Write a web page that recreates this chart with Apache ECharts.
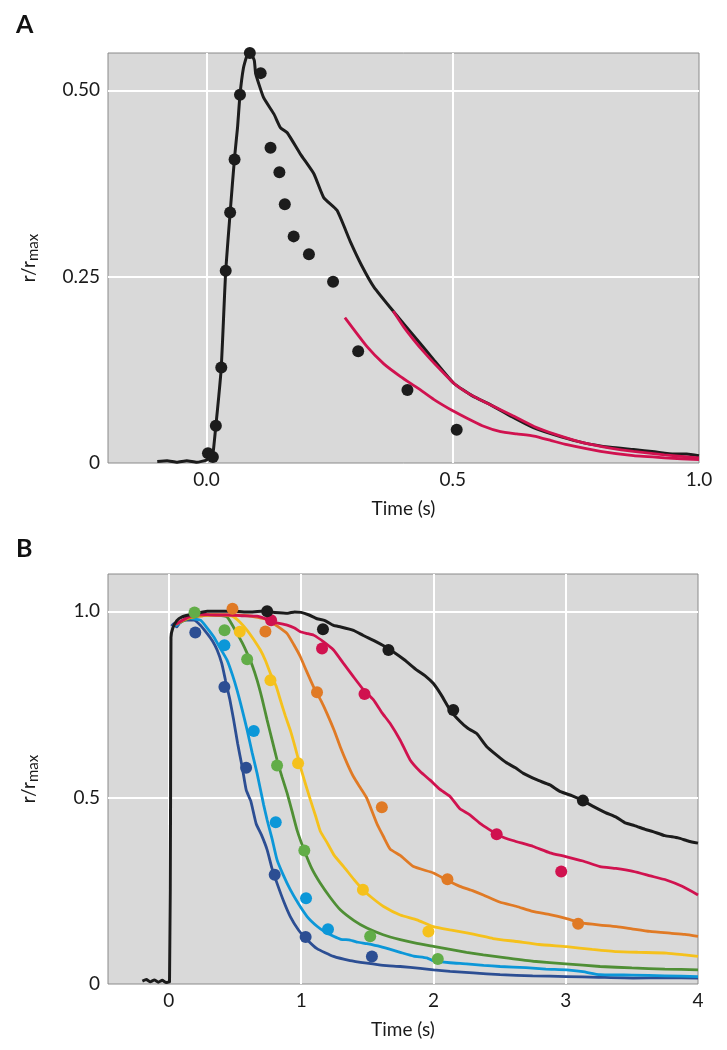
<!DOCTYPE html>
<html>
<head>
<meta charset="utf-8">
<script src="https://cdn.jsdelivr.net/npm/echarts@6/dist/echarts.min.js"></script>
<style>html,body{margin:0;padding:0;background:#fff;}#c{width:727px;height:1050px;}</style>
</head>
<body>
<div id="c"></div>
<script>
// ---------- Panel A data ----------
const xTicksA = [0, 0.5, 1.0];
const yTicksA = [0, 0.25, 0.5];
const xGridA = [0, 0.5];
const yGridA = [0.25, 0.5];
const traceA = [[-0.1,0.002],[-0.08,0.003],[-0.06,0.001],[-0.04,0.003],[-0.02,0.001],[0.0,0.004],[0.008,0.009],[0.013,0.012],[0.019,0.05],[0.025,0.09],[0.03,0.128],[0.035,0.2],[0.039,0.258],[0.048,0.336],[0.057,0.41],[0.063,0.45],[0.068,0.494],[0.075,0.53],[0.082,0.546],[0.09,0.549],[0.097,0.54],[0.1,0.522],[0.116,0.49],[0.137,0.468],[0.15,0.45],[0.164,0.443],[0.191,0.414],[0.218,0.388],[0.238,0.356],[0.265,0.339],[0.292,0.297],[0.315,0.265],[0.34,0.236],[0.38,0.203],[0.428,0.165],[0.462,0.138],[0.502,0.107],[0.54,0.09],[0.577,0.078],[0.62,0.062],[0.665,0.047],[0.72,0.035],[0.766,0.027],[0.82,0.021],[0.867,0.018],[0.91,0.015],[0.949,0.012],[0.975,0.012],[1.0,0.0098]];
const dotsA = [[0.003,0.013],[0.013,0.008],[0.019,0.05],[0.03,0.128],[0.039,0.258],[0.048,0.336],[0.057,0.407],[0.068,0.494],[0.088,0.55],[0.11,0.523],[0.13,0.423],[0.148,0.39],[0.159,0.347],[0.177,0.304],[0.208,0.28],[0.257,0.243],[0.308,0.15],[0.408,0.098],[0.508,0.0445]];
const fitA1 = [[0.281,0.195],[0.326,0.156],[0.36,0.133],[0.394,0.116],[0.43,0.1],[0.462,0.085],[0.5,0.07],[0.529,0.06],[0.56,0.05],[0.597,0.042],[0.63,0.039],[0.665,0.036],[0.7,0.03],[0.732,0.0245],[0.8,0.0155],[0.867,0.0098],[0.93,0.007],[1.0,0.0044]];
const fitA2 = [[0.379,0.204],[0.4,0.183],[0.421,0.165],[0.44,0.15],[0.462,0.134],[0.502,0.107],[0.535,0.092],[0.57,0.08],[0.62,0.064],[0.665,0.049],[0.71,0.038],[0.766,0.027],[0.82,0.02],[0.867,0.0155],[0.93,0.011],[1.0,0.0067]];

// ---------- Panel B data ----------
const xTicksB = [0, 1, 2, 3, 4];
const yTicksB = [0, 0.5, 1.0];
const xGridB = [0, 1, 2, 3];
const yGridB = [0.5, 1.0];
const blackB = [[-0.2,0.008],[-0.17,0.012],[-0.14,0.006],[-0.11,0.011],[-0.08,0.005],[-0.05,0.01],[-0.02,0.004],[0.005,0.006],[0.013,0.5],[0.016,0.93],[0.03,0.955],[0.06,0.975],[0.1,0.985],[0.15,0.99],[0.2,0.993],[0.29,1.0],[0.4,1.0],[0.5,1.0],[0.6,0.998],[0.7,1.0],[0.8,0.997],[0.9,0.995],[0.95,0.998],[1.0,0.997],[1.06,0.99],[1.12,0.98],[1.18,0.975],[1.245,0.962],[1.3,0.958],[1.396,0.949],[1.47,0.935],[1.547,0.922],[1.62,0.908],[1.698,0.891],[1.78,0.87],[1.875,0.842],[1.94,0.826],[2.0,0.806],[2.06,0.775],[2.126,0.735],[2.2,0.705],[2.26,0.686],[2.327,0.672],[2.4,0.638],[2.478,0.614],[2.55,0.594],[2.62,0.58],[2.68,0.565],[2.78,0.548],[2.88,0.534],[2.96,0.516],[3.05,0.505],[3.13,0.492],[3.2,0.478],[3.3,0.46],[3.384,0.447],[3.45,0.432],[3.52,0.425],[3.6,0.415],[3.66,0.409],[3.75,0.398],[3.85,0.392],[3.93,0.383],[4.0,0.378]];
const blackDotsB = [[0.743,1.0],[1.165,0.952],[1.66,0.896],[2.15,0.735],[3.13,0.492]];
const redB = [[0.05,0.965],[0.1,0.975],[0.15,0.985],[0.24,0.992],[0.35,0.99],[0.45,0.99],[0.55,0.988],[0.667,0.987],[0.73,0.98],[0.79,0.971],[0.894,0.963],[0.95,0.955],[0.994,0.945],[1.05,0.94],[1.094,0.936],[1.17,0.918],[1.245,0.896],[1.32,0.86],[1.396,0.824],[1.47,0.79],[1.547,0.762],[1.61,0.728],[1.673,0.699],[1.749,0.654],[1.824,0.601],[1.9,0.57],[1.975,0.547],[2.05,0.522],[2.126,0.503],[2.2,0.47],[2.27,0.455],[2.352,0.431],[2.42,0.415],[2.5,0.398],[2.6,0.385],[2.755,0.369],[2.88,0.352],[3.0,0.342],[3.13,0.33],[3.26,0.315],[3.38,0.31],[3.51,0.302],[3.64,0.29],[3.76,0.279],[3.88,0.262],[4.0,0.239]];
const redDotsB = [[0.773,0.976],[1.158,0.9],[1.479,0.778],[2.478,0.402],[2.966,0.302]];
const orangeB = [[0.05,0.965],[0.15,0.982],[0.3,0.99],[0.44,0.99],[0.6,0.988],[0.743,0.978],[0.82,0.96],[0.894,0.94],[0.945,0.91],[0.994,0.878],[1.04,0.84],[1.094,0.797],[1.15,0.76],[1.195,0.726],[1.25,0.68],[1.296,0.636],[1.35,0.59],[1.396,0.556],[1.45,0.525],[1.497,0.498],[1.573,0.43],[1.623,0.395],[1.673,0.362],[1.749,0.345],[1.849,0.315],[2.0,0.298],[2.1,0.279],[2.2,0.262],[2.3,0.25],[2.377,0.239],[2.5,0.22],[2.63,0.208],[2.75,0.195],[2.88,0.186],[3.0,0.176],[3.13,0.163],[3.26,0.158],[3.384,0.154],[3.5,0.148],[3.636,0.141],[3.8,0.136],[3.9,0.133],[4.0,0.128]];
const orangeDotsB = [[0.481,1.007],[0.73,0.946],[1.12,0.783],[1.61,0.474],[2.106,0.281],[3.094,0.1615]];
const yellowB = [[0.05,0.965],[0.15,0.982],[0.3,0.99],[0.42,0.99],[0.49,0.985],[0.54,0.97],[0.592,0.949],[0.64,0.925],[0.692,0.896],[0.73,0.868],[0.768,0.833],[0.81,0.8],[0.843,0.762],[0.88,0.72],[0.918,0.681],[0.955,0.635],[0.994,0.583],[1.03,0.54],[1.07,0.494],[1.11,0.45],[1.145,0.41],[1.195,0.38],[1.25,0.345],[1.321,0.315],[1.4,0.28],[1.467,0.253],[1.54,0.23],[1.623,0.208],[1.749,0.185],[1.875,0.172],[2.0,0.154],[2.126,0.145],[2.252,0.137],[2.35,0.13],[2.45,0.122],[2.63,0.114],[2.8,0.106],[3.007,0.1],[3.2,0.093],[3.384,0.087],[3.55,0.085],[3.762,0.083],[3.9,0.078],[4.0,0.074]];
const yellowDotsB = [[0.536,0.945],[0.768,0.815],[0.977,0.592],[1.467,0.253],[1.962,0.141]];
const greenB = [[0.05,0.965],[0.15,0.98],[0.25,0.99],[0.35,0.99],[0.44,0.985],[0.516,0.94],[0.555,0.915],[0.592,0.887],[0.63,0.855],[0.667,0.815],[0.705,0.765],[0.743,0.708],[0.78,0.655],[0.818,0.601],[0.856,0.555],[0.894,0.512],[0.93,0.465],[0.969,0.413],[1.024,0.358],[1.08,0.31],[1.145,0.27],[1.22,0.232],[1.296,0.199],[1.4,0.17],[1.497,0.15],[1.62,0.132],[1.749,0.119],[1.875,0.109],[2.0,0.101],[2.126,0.093],[2.25,0.085],[2.377,0.078],[2.55,0.07],[2.755,0.061],[3.0,0.054],[3.26,0.047],[3.5,0.043],[3.75,0.04],[4.0,0.038]];
const greenDotsB = [[0.194,0.997],[0.421,0.949],[0.592,0.871],[0.818,0.586],[1.024,0.358],[1.522,0.128],[2.033,0.067]];
const lightBlueB = [[0.05,0.96],[0.139,0.982],[0.24,0.976],[0.29,0.955],[0.34,0.931],[0.39,0.9],[0.44,0.869],[0.48,0.83],[0.516,0.788],[0.555,0.735],[0.592,0.681],[0.63,0.62],[0.667,0.565],[0.717,0.48],[0.743,0.44],[0.78,0.39],[0.818,0.333],[0.868,0.29],[0.918,0.253],[0.98,0.215],[1.045,0.181],[1.12,0.155],[1.18,0.14],[1.245,0.128],[1.3,0.12],[1.37,0.118],[1.43,0.112],[1.497,0.108],[1.6,0.1],[1.749,0.085],[1.85,0.075],[1.95,0.07],[2.0,0.062],[2.126,0.057],[2.25,0.054],[2.38,0.05],[2.504,0.047],[2.7,0.044],[2.85,0.04],[3.007,0.038],[3.13,0.033],[3.26,0.025],[3.5,0.024],[3.75,0.022],[4.0,0.02]];
const lightBlueDotsB = [[0.42,0.909],[0.642,0.679],[0.808,0.434],[1.037,0.23],[1.203,0.147]];
const darkBlueB = [[0.02,0.96],[0.038,0.967],[0.06,0.958],[0.08,0.968],[0.113,0.976],[0.189,0.976],[0.24,0.962],[0.29,0.94],[0.33,0.92],[0.365,0.896],[0.4,0.86],[0.428,0.815],[0.46,0.765],[0.49,0.708],[0.52,0.645],[0.554,0.583],[0.585,0.52],[0.62,0.49],[0.66,0.43],[0.7,0.4],[0.743,0.36],[0.78,0.31],[0.818,0.27],[0.87,0.22],[0.918,0.181],[0.98,0.145],[1.045,0.119],[1.12,0.095],[1.245,0.074],[1.37,0.063],[1.497,0.056],[1.62,0.05],[1.749,0.047],[1.9,0.042],[2.0,0.038],[2.126,0.034],[2.3,0.03],[2.504,0.025],[2.75,0.022],[3.007,0.02],[3.25,0.018],[3.51,0.016],[3.75,0.017],[4.0,0.016]];
const darkBlueDotsB = [[0.2,0.943],[0.42,0.797],[0.584,0.58],[0.8,0.293],[1.034,0.126],[1.535,0.074]];

const FONT = 'Lato';
const TXT = '#1a1a1a';
const C = {black:'#1c1c1c', red:'#d0124f', orange:'#e07a25', yellow:'#f5c11c', greenLine:'#4f8f35', greenDot:'#62ad48', lightBlue:'#0c97d8', darkBlue:'#2c4e93'};

function xAxisCfg(gi, min, max, ticks, fmt) {
  return {type:'value', gridIndex:gi, min:min, max:max,
    axisLine:{show:false}, axisTick:{show:false}, splitLine:{show:false},
    axisLabel:{customValues:ticks, formatter:fmt, margin:7, fontSize:19, color:TXT, fontFamily:FONT},
    name:'Time (s)', nameLocation:'middle', nameGap:36,
    nameTextStyle:{fontSize:19, color:TXT, fontFamily:FONT}};
}
function yAxisCfg(gi, min, max, ticks, fmt) {
  return {type:'value', gridIndex:gi, min:min, max:max,
    axisLine:{show:false}, axisTick:{show:false}, splitLine:{show:false},
    axisLabel:{customValues:ticks, formatter:fmt, margin:8, fontSize:19, color:TXT, fontFamily:FONT},
    name:'{a|r/r}{b|max}', nameLocation:'middle', nameGap:67, nameRotate:90,
    nameTextStyle:{color:TXT, fontFamily:FONT, rich:{
      a:{fontSize:19, color:TXT, fontFamily:FONT},
      b:{fontSize:15, color:TXT, fontFamily:FONT, padding:[10,0,0,0]}}}};
}
function gridLines(xi, xs, ys) {
  return {type:'line', xAxisIndex:xi, yAxisIndex:xi, data:[], silent:true, z:1,
    markLine:{silent:true, z:1, symbol:'none', animation:false, label:{show:false},
      lineStyle:{color:'#ffffff', width:2, type:'solid', opacity:1},
      emphasis:{disabled:true},
      data:[...xs.map(v=>({xAxis:v})), ...ys.map(v=>({yAxis:v}))]}};
}
function line(xi, data, color, w) {
  return {type:'line', xAxisIndex:xi, yAxisIndex:xi, data:data, showSymbol:false, symbol:'none',
    lineStyle:{color:color, width:w||2.8}, z:3, silent:true, smooth:0.15};
}
function dots(xi, data, color) {
  return {type:'scatter', xAxisIndex:xi, yAxisIndex:xi, data:data, symbolSize:12,
    itemStyle:{color:color, opacity:1}, z:5, silent:true, clip:false};
}

const option = {
  animation:false,
  textStyle:{fontFamily:FONT},
  grid:[
    {left:108, top:53, width:591, height:410, show:true, backgroundColor:'#d9d9d9', borderColor:'#8a8a8a', borderWidth:1},
    {left:108, top:574, width:590, height:410, show:true, backgroundColor:'#d9d9d9', borderColor:'#8a8a8a', borderWidth:1}
  ],
  xAxis:[
    xAxisCfg(0, -0.2, 1.0, xTicksA, v=>v.toFixed(1)),
    xAxisCfg(1, -0.46, 4, xTicksB, v=>String(v))
  ],
  yAxis:[
    yAxisCfg(0, 0, 0.55, yTicksA, v=>v===0?'0':v.toFixed(2)),
    yAxisCfg(1, 0, 1.1, yTicksB, v=>v===0?'0':v.toFixed(1))
  ],
  graphic:[
    {type:'text', left:16, top:12, style:{text:'A', font:'bold 25px Lato', fill:'#111'}},
    {type:'text', left:16, top:536, style:{text:'B', font:'bold 25px Lato', fill:'#111'}}
  ],
  series:[
    gridLines(0, xGridA, yGridA),
    gridLines(1, xGridB, yGridB),
    line(0, traceA, C.black, 3),
    line(0, fitA1, C.red, 2.8),
    line(0, fitA2, C.red, 2.8),
    dots(0, dotsA, C.black),
    line(1, darkBlueB, C.darkBlue),
    line(1, lightBlueB, C.lightBlue),
    line(1, greenB, C.greenLine),
    line(1, yellowB, C.yellow),
    line(1, orangeB, C.orange),
    line(1, redB, C.red),
    line(1, blackB, C.black, 3),
    dots(1, darkBlueDotsB, C.darkBlue),
    dots(1, lightBlueDotsB, C.lightBlue),
    dots(1, greenDotsB, C.greenDot),
    dots(1, yellowDotsB, C.yellow),
    dots(1, orangeDotsB, C.orange),
    dots(1, redDotsB, C.red),
    dots(1, blackDotsB, C.black)
  ]
};
const chart = echarts.init(document.getElementById('c'), null, {renderer:'canvas'});
chart.setOption(option);
</script>
</body>
</html>
